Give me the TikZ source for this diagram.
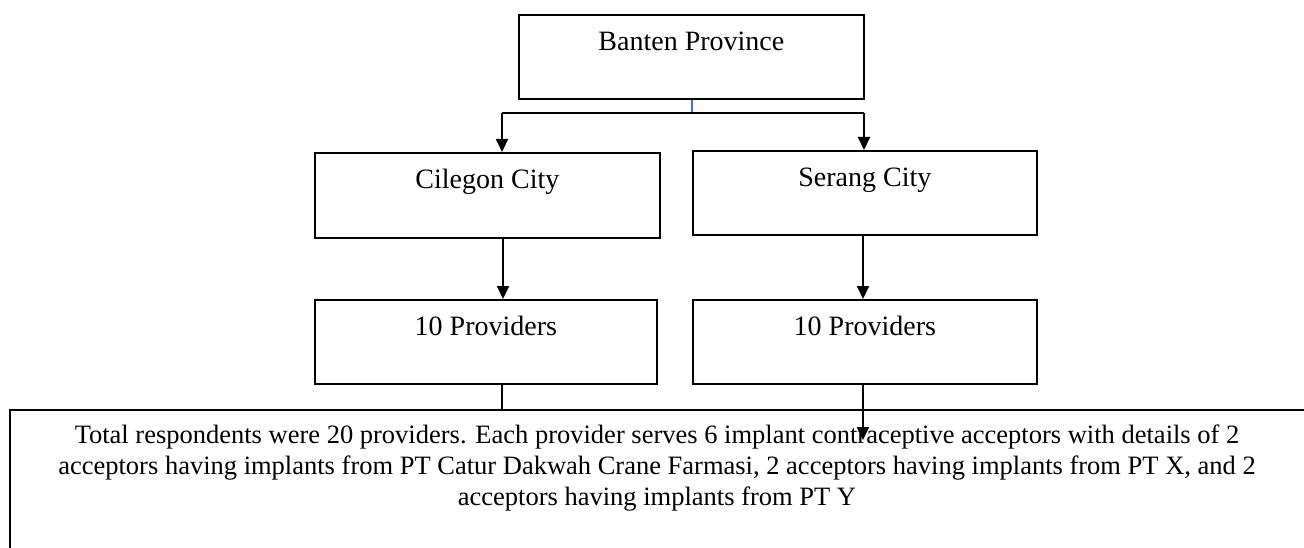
\documentclass[tikz,border=0pt]{standalone}
\usepackage{fontspec}
\setmainfont{Liberation Serif}
\usetikzlibrary{arrows.meta}
\definecolor{linkblue}{RGB}{68,114,196}
\begin{document}
\begin{tikzpicture}[x=1pt,y=-1pt,
  box/.style={draw=black, line width=1.8pt, inner xsep=0pt, inner ysep=0pt,
    font=\fontsize{28}{31}\selectfont, anchor=north west},
  link/.style={draw=black, line width=1.8pt},
  arr/.style={link, -{Triangle[length=13pt,width=12pt]}}]
\useasboundingbox (0,0) rectangle (1304,548);
\clip (0,0) rectangle (1304,548);

% boxes: text sits in the upper part of each box
\node[box, minimum width=345pt, text height=36pt, text depth=48pt] (banten) at (518,14) {Banten Province};
\node[box, minimum width=345pt, text height=36pt, text depth=49pt] (cil) at (314,152) {Cilegon City};
\node[box, minimum width=344pt, text height=36pt, text depth=48pt] (ser) at (692,150) {Serang City};
\node[box, minimum width=342pt, text height=36pt, text depth=48pt] (provL) at (314,299) {10 Providers};
\node[box, minimum width=344pt, text height=36pt, text depth=48pt] (provR) at (692,299) {10 Providers};

% summary box running past the right and bottom edges
\node[box, minimum width=1320pt, minimum height=160pt] (total) at (9,409) {};
\node[font=\fontsize{26.5}{31}\selectfont, align=center, anchor=north, inner sep=0pt] (totaltext) at (657,425)
  {Total respondents were 20 providers. Each provider serves 6 implant contraceptive acceptors with details of 2\\
   acceptors having implants from PT Catur Dakwah Crane Farmasi, 2 acceptors having implants from PT X, and 2\\
   acceptors having implants from PT Y};

% branching connector from the province
\coordinate (jm) at (692,113);
\coordinate (jl) at (502,113);
\coordinate (jr) at (864,113);
\draw[draw=linkblue, line width=1.2pt] (banten.south -| jm) -- (jm);
\draw[link] (jl) -- (jr);
\draw[arr] (jl) -- (jl |- cil.north);
\draw[arr] (jr) -- (jr |- ser.north);

% city to providers
\coordinate (cl) at (503,0);
\coordinate (cr) at (863,0);
\draw[arr] (cil.south -| cl) -- (provL.north -| cl);
\draw[arr] (ser.south -| cr) -- (provR.north -| cr);

% providers to summary
\coordinate (pl) at (502,0);
\coordinate (pr) at (863,440);
\draw[link] (provL.south -| pl) -- (total.north -| pl);
\draw[arr] (provR.south -| pr) -- (pr);
\end{tikzpicture}
\end{document}
